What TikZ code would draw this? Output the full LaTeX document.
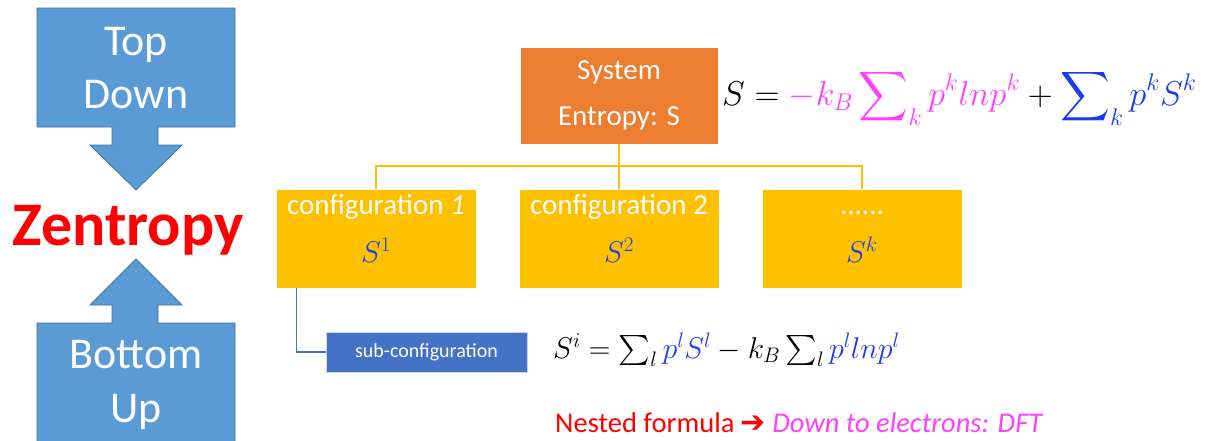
\RequirePackage{fix-cm}
\documentclass[tikz,border=0pt]{standalone}
\usepackage{amsmath}
\DeclareFontShape{OMX}{cmex}{m}{n}{<->cmex10}{}
\usepackage{fontspec}
\setmainfont{Carlito}
\newfontfamily\symfont{DejaVu Sans}
\usetikzlibrary{calc,positioning}
\definecolor{callblue}{HTML}{5B9BD5}
\definecolor{callline}{HTML}{41719C}
\definecolor{sysorange}{HTML}{ED7D31}
\definecolor{confgold}{HTML}{FFC000}
\definecolor{subblue}{HTML}{4472C4}
\definecolor{formblue}{HTML}{1A3CF0}
\definecolor{formpink}{HTML}{FF40FF}
\def\fsz#1#2{\fontsize{#1}{#2}\selectfont}

\begin{document}
\begin{tikzpicture}[x=1pt,y=-1pt,
		callout/.style={fill=callblue,draw=callline,line width=0.8pt},
		calltext/.style={text=white,font=\fsz{44}{44},anchor=base,inner sep=0pt},
		cbox/.style={fill=confgold,draw=white,line width=0.5pt,minimum width=200pt,minimum height=99pt,inner sep=0pt},
		ctext/.style={text=white,font=\fsz{29}{34},anchor=base,inner sep=0pt},
		cmath/.style={text=formblue,font=\fsz{30}{32},anchor=base,inner sep=0pt},
		busline/.style={draw=confgold,line width=1.5pt},
		subline/.style={draw=subblue,line width=1.2pt}]
		%%%%% START %%%%%
		\useasboundingbox[fill=white] (0,0) rectangle (1210,440);
		
		% top down / bottom up
		\draw[callout] (37,8) -- (235,8) -- (235,127) -- (158,127) -- (158,145) -- (182,145) -- (136,190) -- (90,145) -- (112,145) -- (112,127) -- (37,127) -- cycle;
		\draw[callout] (136,259) -- (182,305) -- (158,305) -- (158,323) -- (235,323) -- (235,446) -- (37,446) -- (37,323) -- (112,323) -- (112,305) -- (90,305) -- cycle;
		\node[calltext] (ttop) at (136,55) {Top};
		\node[calltext] (tdown) at (136,108) {Down};
		\node[calltext] (tbottom) at (136,368) {Bottom};
		\node[calltext] (tup) at (136,422) {Up};
		\node[anchor=base,inner sep=0pt,text=red,font=\fsz{62}{62}\bfseries] (zen) at (128,245) {Zentropy};
		
		% system
		\node[fill=sysorange,draw=white,line width=0.5pt,minimum width=198pt,minimum height=97pt,text=white,font=\fsz{29}{46},align=center] (sys) at (619,95.5) {System\\Entropy: S};
		\node[anchor=base west,inner sep=0pt,font=\fsz{34.5}{36}] (sysf) at (722,105)
			{$\displaystyle S = {\color{formpink}-k_B \sum\nolimits_k p^k lnp^k} + {\color{formblue}\sum\nolimits_k p^k S^k}$};
		
		% configurations
		\node[cbox] (conf1) at (376,238.5) {};
		\node[cbox] (conf2) at (619,238.5) {};
		\node[cbox] (confk) at (862,238.5) {};
		\node[ctext] (conf1t) at ($(conf1.north)+(0,26)$) {configuration \textit{1}};
		\node[ctext] (conf2t) at ($(conf2.north)+(0,26)$) {configuration 2};
		\node[ctext] (confkt) at ($(confk.north)+(0,26)$) {......};
		\node[cmath] (conf1s) at ($(conf1.north)+(0,74)$) {$S^1$};
		\node[cmath] (conf2s) at ($(conf2.north)+(0,74)$) {$S^2$};
		\node[cmath] (confks) at ($(confk.north)+(0,74)$) {$S^k$};
		
		\coordinate (bus) at (619,166);
		\draw[busline] (sys.south) -- (bus);
		\foreach \c in {conf1,conf2,confk}
			\draw[busline] (bus) -| (\c.north);
		
		% sub-configuration
		\node[fill=subblue,draw=subblue!30!white,line width=0.5pt,minimum width=201pt,minimum height=40pt,text=white,font=\fsz{20}{22}] (sub) at (426.5,352) {sub-configuration};
		\draw[subline] ($(conf1.south west)+(21,0)$) |- (sub.west);
		\node[anchor=base west,inner sep=0pt,font=\fsz{30}{32}] (subf) at (553,358)
			{$S^i = \sum_l {\color{formblue}p^l S^l} - k_B \sum_l {\color{formblue}p^l lnp^l}$};
		
		\node[anchor=base west,inner sep=0pt,font=\fsz{28.5}{32}] (nested) at (555,432)
			{\color{red}Nested formula {\symfont\fsz{30}{32}➔} \color{formpink}\itshape Down to electrons: DFT};
		%%%%% END %%%%%
	\end{tikzpicture}
\end{document}
